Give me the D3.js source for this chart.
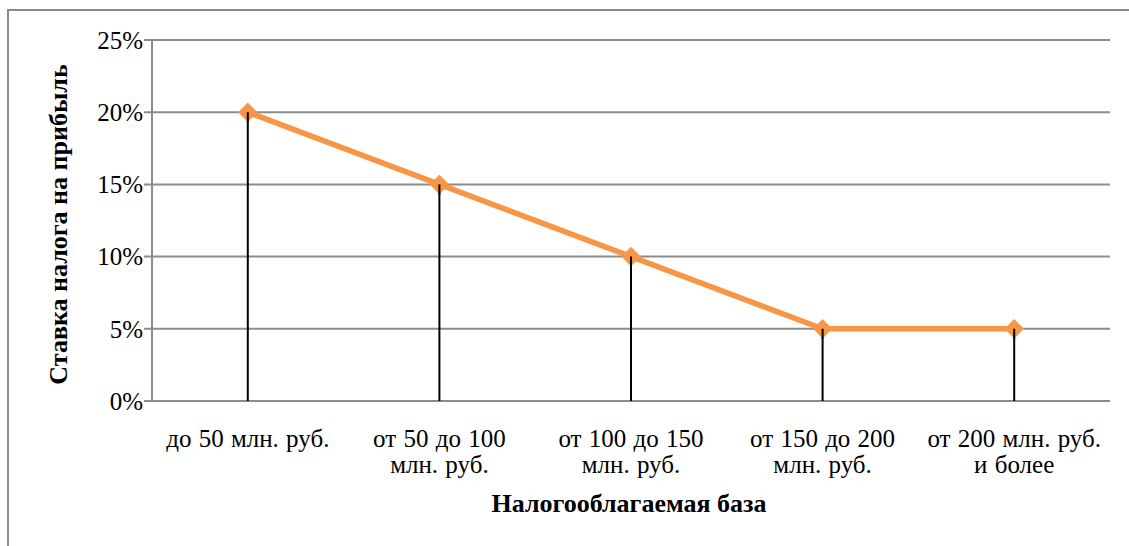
<!DOCTYPE html>
<html><head><meta charset="utf-8">
<script src="https://cdn.jsdelivr.net/npm/d3@7"></script>
<style>body{margin:0;background:#fff}svg{display:block}</style>
</head><body><svg id="c" width="1129" height="546"></svg>
<script>
const categories = [["до 50 млн. руб."],["от 50 до 100","млн. руб."],["от 100 до 150","млн. руб."],["от 150 до 200","млн. руб."],["от 200 млн. руб.","и более"]];
const rates = [20, 15, 10, 5, 5];
const yTicks = [0, 5, 10, 15, 20, 25];
const yTitle = "Ставка налога на прибыль";
const xTitle = "Налогооблагаемая база";

const FONT = '"Liberation Serif"';
const FS = 25, FSB = 26;
const svg = d3.select("#c");
const L = 152, R = 1110, T = 40, B = 401;
svg.append("rect").attr("x",8).attr("y",10).attr("width",1140).attr("height",560)
  .attr("fill","none").attr("stroke","#8c8c8c").attr("stroke-width",2);

const x = d3.scaleBand().domain(d3.range(categories.length)).range([L,R]);
const y = d3.scaleLinear().domain([0,25]).range([B,T]);

svg.append("g").selectAll("line").data(yTicks).join("line")
  .attr("x1",L-8).attr("x2",R).attr("y1",d=>y(d)).attr("y2",d=>y(d))
  .attr("stroke","#8c8c8c").attr("stroke-width",2);
svg.append("line").attr("x1",L).attr("x2",L).attr("y1",T).attr("y2",B)
  .attr("stroke","#8c8c8c").attr("stroke-width",2);

svg.append("g").selectAll("text").data(yTicks).join("text")
  .attr("x",L-9).attr("y",d=>y(d)).attr("dy","0.35em").attr("text-anchor","end")
  .style("font-family",FONT).style("font-size",FS+"px").text(d=>d+"%");

const cx = i => x(i)+x.bandwidth()/2;
svg.append("g").selectAll("line").data(rates).join("line")
  .attr("x1",(d,i)=>cx(i)).attr("x2",(d,i)=>cx(i)).attr("y1",d=>y(d)).attr("y2",B)
  .attr("stroke","#000").attr("stroke-width",2);

svg.append("path").datum(rates)
  .attr("d",d3.line().x((d,i)=>cx(i)).y(d=>y(d)))
  .attr("fill","none").attr("stroke","#F79646").attr("stroke-width",5.5);

svg.append("g").selectAll("path").data(rates).join("path")
  .attr("transform",(d,i)=>`translate(${cx(i)},${y(d)}) rotate(45)`)
  .attr("d",d3.symbol().type(d3.symbolSquare).size(190))
  .attr("fill","#F79646");
svg.append("g").selectAll("line").data(rates).join("line")
  .attr("x1",(d,i)=>cx(i)).attr("x2",(d,i)=>cx(i)).attr("y1",d=>y(d)).attr("y2",d=>y(d)+10)
  .attr("stroke","#000").attr("stroke-width",2);

const xl = svg.append("g").selectAll("text").data(categories).join("text")
  .attr("x",(d,i)=>cx(i)).attr("y",447).attr("text-anchor","middle")
  .style("font-family",FONT).style("font-size",FS+"px").style("word-spacing","1px");
xl.selectAll("tspan").data(d=>d).join("tspan")
  .attr("x",function(){return this.parentNode.getAttribute("x");})
  .attr("dy",(d,i)=>i?26:0).text(d=>d);

svg.append("text").attr("x",629).attr("y",512).attr("text-anchor","middle")
  .style("font-family",FONT).style("font-size",FSB+"px").style("font-weight","bold").text(xTitle);
svg.append("text").attr("transform",`translate(67,${(T+B)/2+4}) rotate(-90)`)
  .attr("text-anchor","middle")
  .style("font-family",FONT).style("font-size",FSB+"px").style("font-weight","bold").text(yTitle);
</script></body></html>
